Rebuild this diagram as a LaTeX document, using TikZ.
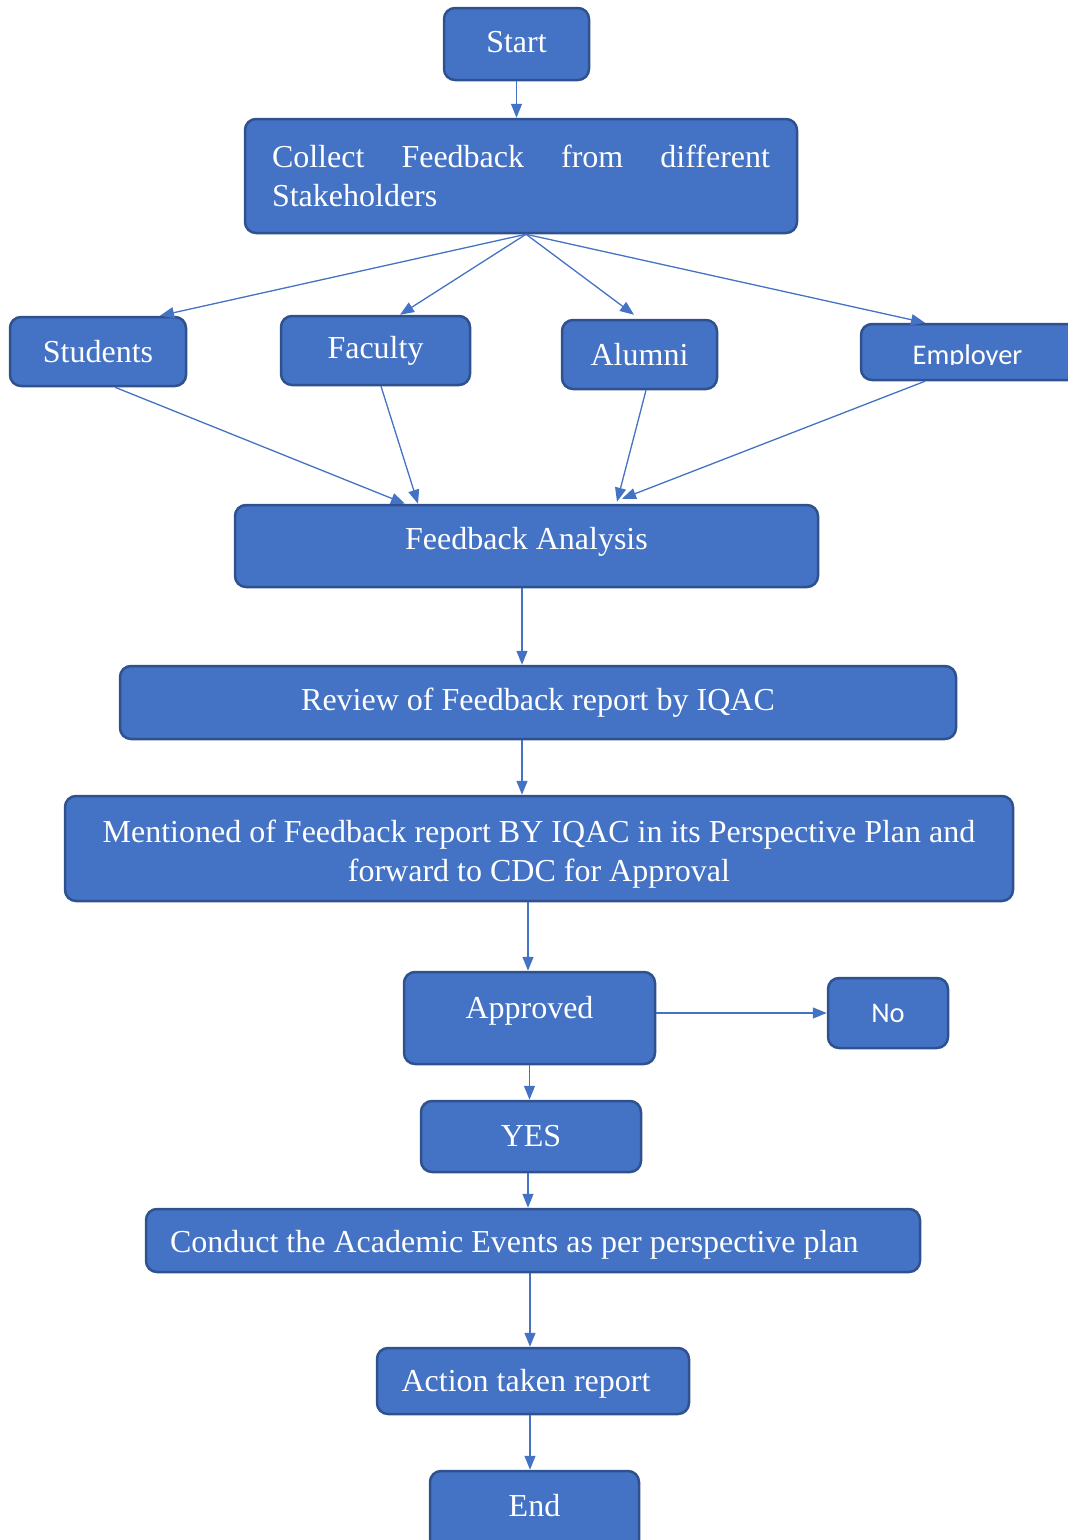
\documentclass[tikz,border=0pt]{standalone}
\usepackage{fontspec}
\setmainfont{Liberation Serif}
\newfontfamily\carlitofont{Carlito}
\usetikzlibrary{arrows.meta,calc}
\definecolor{boxfill}{HTML}{4472C4}
\definecolor{boxline}{HTML}{2F528F}
\definecolor{arrowcol}{HTML}{4472C4}
\begin{document}
\begin{tikzpicture}[x=1pt,y=-1pt,
  box/.style={draw=boxline, fill=boxfill, line width=2.5pt, rounded corners=11pt,
    text=white, font=\fontsize{32}{39}\selectfont, inner sep=0pt, align=center},
  sz/.style 2 args={minimum width=#1pt, minimum height=#2pt},
  sansbox/.style={font=\carlitofont\fontsize{28.5}{34}\selectfont},
  conn/.style={draw=arrowcol, line width=1.3pt, -{Triangle[length=14pt,width=11pt]}},
]
\useasboundingbox (0,0) rectangle (1068,1540);
\clip (0,0) rectangle (1068,1540);

% nodes
\node[box, sz={145}{72}, text height=22pt, text depth=6pt] (start) at (516.5,44) {Start};
\node[box, sz={552}{114}, text width=498pt, align=justify] (collect) at (521,176)
  {Collect Feedback from different\linebreak Stakeholders};
\node[box, sz={176}{69}] (students) at (98,351.5) {Students};
\node[box, sz={189}{69}] (faculty) at (375.5,350.5) {Faculty};
\node[box, sz={155}{69}] (alumni) at (639.5,354.5) {Alumni};
\node[box, sz={229}{56}] (employer) at (975.5,352) {};
\begin{scope}
  \clip (861,324) rectangle (1068,364.5);
  \node[sansbox, text=white, anchor=base, inner sep=0pt] (emptext) at (967.5,364) {Employer};
\end{scope}
\node[box, sz={583}{82}, text height=22pt, text depth=15pt] (analysis) at (526.5,546) {Feedback Analysis};
\node[box, sz={836}{73}] (review) at (538,702.5) {Review of Feedback report by IQAC};
\node[box, sz={948}{105}] (mention) at (539,848.5)
  {\rule{0pt}{34pt}Mentioned of Feedback report BY IQAC in its Perspective Plan and\\ forward to CDC for Approval};
\node[box, sz={251}{92}, text height=22pt, text depth=22pt] (approved) at (529.5,1018) {Approved};
\node[box, sansbox, sz={120}{70}] (no) at (888,1013) {No};
\node[box, sz={220}{71}] (yes) at (531,1136.5) {YES};
\node[box, sz={774}{63}, text height=30pt, text depth=7pt] (conduct) at (533,1240.5)
  {\makebox[726pt][l]{Conduct the Academic Events as per perspective plan}};
\node[box, sz={312}{66}, text height=28pt, text depth=7pt] (action) at (533,1381)
  {\hspace*{-14pt}Action taken report};
\node[box, sz={209}{80}, text height=22pt, text depth=12pt] (finish) at (534.5,1511) {End};

% connectors
\draw[conn] (start.south) -- (start.south |- collect.north);
\coordinate (cb) at ([xshift=5pt]collect.south);
\draw[conn] (cb) -- ([xshift=62pt]students.north);
\draw[conn] (cb) -- ([xshift=24.5pt]faculty.north);
\draw[conn] (cb) -- ([xshift=-5.5pt,yshift=4pt]alumni.north);
\draw[conn] (cb) -- ([xshift=-50.5pt]employer.north);

\draw[conn] ([xshift=17pt]students.south) -- ([xshift=-121.5pt]analysis.north);
\draw[conn] ([xshift=5.5pt]faculty.south) -- ([xshift=-108.5pt]analysis.north);
\draw[conn] ([xshift=6.5pt]alumni.south) -- ([xshift=90.5pt,yshift=2pt]analysis.north);
\draw[conn] ([xshift=-50.5pt]employer.south) -- ([xshift=95.5pt,yshift=5pt]analysis.north);

\draw[conn] ([xshift=-4.5pt]analysis.south) -- ([xshift=-4.5pt]analysis.south |- review.north);
\draw[conn] ([xshift=-16pt]review.south) -- ([xshift=-16pt]review.south |- mention.north);
\draw[conn] ([xshift=-11pt]mention.south) -- ([xshift=-11pt]mention.south |- approved.north);
\draw[conn] (approved.east |- no.west) -- (no.west);
\draw[conn] (approved.south) -- (approved.south |- yes.north);
\draw[conn] ([xshift=-3pt]yes.south) -- ([xshift=-3pt]yes.south |- conduct.north);
\draw[conn] ([xshift=-3pt]conduct.south) -- ([xshift=-3pt]conduct.south |- action.north);
\draw[conn] ([xshift=-3pt]action.south) -- ([xshift=-3pt]action.south |- finish.north);
\end{tikzpicture}
\end{document}
